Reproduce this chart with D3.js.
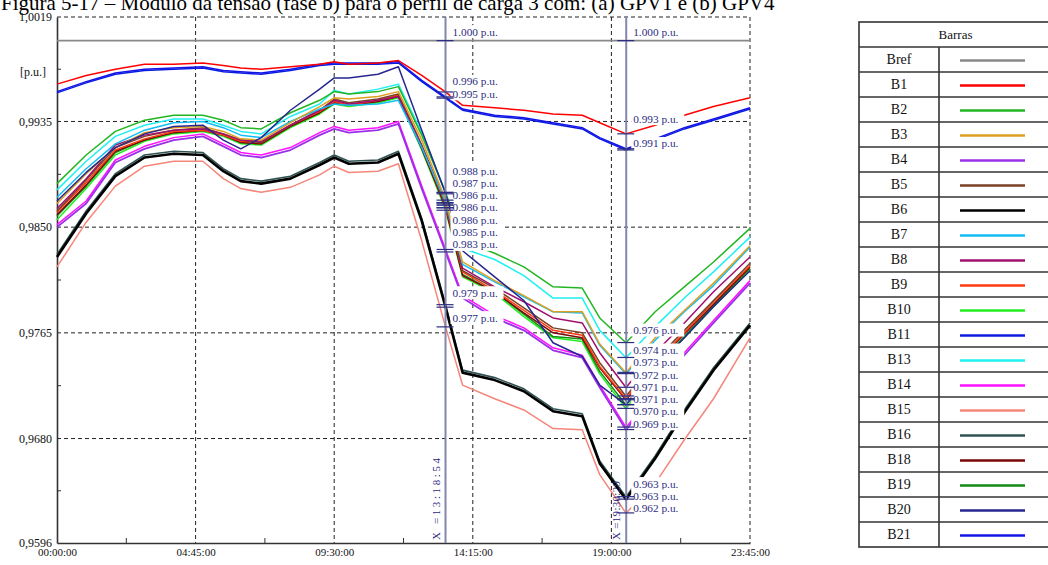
<!DOCTYPE html>
<html><head><meta charset="utf-8">
<script src="https://cdn.jsdelivr.net/npm/d3@7/dist/d3.min.js"></script>
<style>
body{margin:0;background:#fff;}
svg{display:block;font-family:"Liberation Serif","Times New Roman",serif;}
</style>
</head><body>
<svg id="chart" width="1048" height="565"></svg>
<script>
// ---------- DATA ----------
const titleText = "Figura 5-17 – Módulo da tensão (fase b) para o perfil de carga 3 com: (a) GPV1 e (b) GPV4";
const hours = [0, 1, 2, 3, 4, 5, 5.7, 6.3, 7, 8, 9, 9.5, 10, 11, 11.7, 12.5, 13.3, 13.9, 15, 16, 17, 18, 18.6, 19.5, 20.5, 21.5, 22.5, 23.75];
const seriesNames = ["Bref","B1","B2","B3","B4","B5","B6","B7","B8","B9","B10","B11","B13","B14","B15","B16","B18","B19","B20","B21"];
const Bref = [1.000,1.000,1.000,1.000,1.000,1.000,1.000,1.000,1.000,1.000,1.000,1.000,1.000,1.000,1.000,1.000,1.000,1.000,1.000,1.000,1.000,1.000,1.000,1.000,1.000,1.000,1.000,1.000];
const B1  = [0.9965,0.9972,0.9977,0.9981,0.9981,0.9982,0.9980,0.9978,0.9977,0.9979,0.9981,0.9983,0.9981,0.9982,0.9984,0.9972,0.9959,0.9948,0.9946,0.9944,0.9941,0.9940,0.9934,0.9925,0.9932,0.9940,0.9947,0.9954];
const B21 = [0.9959,0.9967,0.9974,0.9977,0.9978,0.9979,0.9976,0.9975,0.9974,0.9977,0.9981,0.9982,0.9982,0.9982,0.9983,0.9968,0.9955,0.9945,0.9940,0.9938,0.9934,0.9930,0.9922,0.9913,0.9921,0.9930,0.9937,0.9946];
const B11 = [0.9958,0.9966,0.9973,0.9976,0.9977,0.9978,0.9975,0.9974,0.9973,0.9976,0.9980,0.9981,0.9981,0.9981,0.9982,0.9967,0.9954,0.9944,0.9939,0.9937,0.9933,0.9929,0.9921,0.9912,0.9920,0.9929,0.9936,0.9945];
const B2  = [0.9885,0.9908,0.9927,0.9936,0.9940,0.9940,0.9936,0.9930,0.9929,0.9942,0.9952,0.9959,0.9957,0.9959,0.9963,0.9924,0.9879,0.9839,0.9829,0.9818,0.9802,0.9801,0.9777,0.9757,0.9782,0.9802,0.9822,0.9849];
const B13 = [0.9880,0.9903,0.9923,0.9932,0.9937,0.9937,0.9932,0.9927,0.9925,0.9939,0.9949,0.9960,0.9957,0.9961,0.9965,0.9926,0.9879,0.9833,0.9824,0.9811,0.9793,0.9793,0.9767,0.9745,0.9770,0.9793,0.9814,0.9842];
const B7  = [0.9874,0.9897,0.9917,0.9928,0.9934,0.9935,0.9930,0.9924,0.9922,0.9935,0.9945,0.9949,0.9948,0.9949,0.9952,0.9914,0.9871,0.9820,0.9806,0.9794,0.9782,0.9781,0.9755,0.9732,0.9759,0.9782,0.9803,0.9834];
const B3  = [0.9869,0.9893,0.9914,0.9926,0.9930,0.9931,0.9927,0.9921,0.9920,0.9934,0.9947,0.9954,0.9953,0.9955,0.9959,0.9920,0.9873,0.9822,0.9807,0.9795,0.9782,0.9782,0.9756,0.9733,0.9761,0.9783,0.9805,0.9835];
const B8  = [0.9865,0.9889,0.9916,0.9924,0.9928,0.9929,0.9925,0.9920,0.9919,0.9932,0.9944,0.9952,0.9949,0.9952,0.9955,0.9915,0.9871,0.9817,0.9802,0.9790,0.9777,0.9773,0.9749,0.9721,0.9749,0.9773,0.9798,0.9826];
const B5  = [0.9863,0.9888,0.9914,0.9923,0.9928,0.9930,0.9925,0.9920,0.9918,0.9932,0.9944,0.9953,0.9950,0.9953,0.9957,0.9916,0.9870,0.9815,0.9801,0.9785,0.9769,0.9765,0.9741,0.9714,0.9743,0.9767,0.9791,0.9821];
const B9  = [0.9862,0.9886,0.9912,0.9921,0.9927,0.9928,0.9924,0.9919,0.9918,0.9932,0.9943,0.9951,0.9948,0.9952,0.9956,0.9915,0.9869,0.9814,0.9799,0.9783,0.9767,0.9763,0.9738,0.9712,0.9741,0.9765,0.9790,0.9819];
const B18 = [0.9860,0.9884,0.9911,0.9920,0.9926,0.9928,0.9924,0.9918,0.9917,0.9931,0.9942,0.9950,0.9948,0.9951,0.9955,0.9913,0.9867,0.9811,0.9798,0.9781,0.9765,0.9761,0.9737,0.9711,0.9740,0.9764,0.9788,0.9818];
const B19 = [0.9859,0.9883,0.9910,0.9920,0.9926,0.9928,0.9924,0.9918,0.9917,0.9931,0.9942,0.9950,0.9948,0.9951,0.9955,0.9914,0.9867,0.9812,0.9798,0.9780,0.9762,0.9760,0.9734,0.9707,0.9738,0.9762,0.9787,0.9817];
const B10 = [0.9856,0.9881,0.9908,0.9919,0.9925,0.9927,0.9923,0.9917,0.9916,0.9930,0.9941,0.9949,0.9947,0.9950,0.9954,0.9912,0.9865,0.9810,0.9797,0.9778,0.9761,0.9758,0.9732,0.9704,0.9737,0.9761,0.9786,0.9816];
const B4  = [0.9850,0.9869,0.9902,0.9913,0.9920,0.9923,0.9915,0.9908,0.9906,0.9912,0.9924,0.9929,0.9926,0.9928,0.9933,0.9881,0.9831,0.9793,0.9777,0.9767,0.9751,0.9745,0.9721,0.9687,0.9716,0.9747,0.9773,0.9805];
const B14 = [0.9852,0.9871,0.9904,0.9915,0.9922,0.9925,0.9917,0.9910,0.9908,0.9914,0.9926,0.9931,0.9928,0.9930,0.9935,0.9883,0.9833,0.9795,0.9779,0.9769,0.9753,0.9747,0.9723,0.9689,0.9718,0.9749,0.9775,0.9807];
const B20 = [0.9871,0.9894,0.9914,0.9925,0.9931,0.9932,0.9920,0.9913,0.9922,0.9944,0.9961,0.9970,0.9970,0.9973,0.9979,0.9928,0.9878,0.9831,0.9810,0.9791,0.9757,0.9746,0.9723,0.9707,0.9737,0.9761,0.9786,0.9815];
const B6  = [0.9826,0.9861,0.9891,0.9906,0.9909,0.9908,0.9895,0.9887,0.9885,0.9889,0.9900,0.9906,0.9901,0.9902,0.9909,0.9855,0.9787,0.9733,0.9727,0.9718,0.9702,0.9698,0.9660,0.9631,0.9664,0.9701,0.9735,0.9771];
const B16 = [0.9828,0.9863,0.9893,0.9908,0.9911,0.9910,0.9897,0.9889,0.9887,0.9891,0.9902,0.9908,0.9903,0.9904,0.9911,0.9857,0.9789,0.9735,0.9729,0.9720,0.9704,0.9700,0.9662,0.9633,0.9666,0.9703,0.9737,0.9773];
const B15 = [0.9818,0.9854,0.9883,0.9899,0.9903,0.9903,0.9889,0.9881,0.9878,0.9882,0.9892,0.9899,0.9894,0.9895,0.9901,0.9839,0.9771,0.9723,0.9712,0.9703,0.9688,0.9687,0.9651,0.9620,0.9644,0.9679,0.9712,0.9761];

const xTickValues = [0, 4.75, 9.5, 14.25, 19, 23.75];
const xTickLabels = ["00:00:00","04:45:00","09:30:00","14:15:00","19:00:00","23:45:00"];
const yTickValues = [0.9596, 0.9680, 0.9765, 0.9850, 0.9935, 1.0019];
const yTickLabels = ["0,9596","0,9680","0,9765","0,9850","0,9935","1,0019"];
const yUnit = "[p.u.]";
const cursorTimes = [13 + 18/60 + 54/3600, 19 + 30/60 + 29/3600];
const cursorTimeLabels = ["X =13:18:54", "X =19:30:29"];
const cursor1Readings = [1.000,0.996,0.995,0.988,0.987,0.986,0.986,0.986,0.985,0.983,0.979,0.977];
const cursor2Readings = [1.000,0.993,0.991,0.976,0.974,0.973,0.972,0.971,0.971,0.970,0.969,0.963,0.963,0.962];
const legendTitle = "Barras";

// ---------- STYLE ----------
const seriesData = {Bref,B1,B2,B3,B4,B5,B6,B7,B8,B9,B10,B11,B13,B14,B15,B16,B18,B19,B20,B21};
const colors = {Bref:"#888888",B1:"#FF0000",B2:"#22B622",B3:"#DDA020",B4:"#9A30E8",B5:"#7A4226",B6:"#000000",
  B7:"#10BEF5",B8:"#A0106E",B9:"#FF3A10",B10:"#22EE22",B11:"#0A1EE0",B13:"#20F0F0",B14:"#FF10FF",
  B15:"#F5867A",B16:"#2F5252",B18:"#7A0808",B19:"#138A13",B20:"#262690",B21:"#1414E8"};
const widths = {Bref:1.6,B6:2.6,B4:1.8,B16:1.6};
const drawOrder = ["Bref","B15","B16","B6","B14","B4","B10","B19","B18","B9","B5","B8","B7","B3","B13","B2","B20","B11","B21","B1"];

const svg = d3.select("#chart");
const L = 57, R = 750, T = 17, B = 543;
const x = d3.scaleLinear().domain([0, 23.75]).range([L, R]);
const y = d3.scaleLinear().domain([0.9596, 1.0019]).range([B, T]);
const navy = "#2C2C80";

// title (partially cut off at top)
svg.append("text").attr("x", 1).attr("y", 10).attr("font-size", 21).attr("fill", "#000").text(titleText);

// grid
const grid = svg.append("g");
yTickValues.filter(v => v > 0.96).forEach(v => {
  grid.append("line").attr("x1", L).attr("x2", R).attr("y1", y(v)).attr("y2", y(v))
    .attr("stroke", "#222").attr("stroke-width", 1).attr("stroke-dasharray", "4,3");
});
xTickValues.filter(v => v > 0).forEach(v => {
  grid.append("line").attr("x1", x(v)).attr("x2", x(v)).attr("y1", T).attr("y2", B)
    .attr("stroke", "#222").attr("stroke-width", 1).attr("stroke-dasharray", "4,3");
});

// axes
const xAxis = d3.axisBottom(x).tickValues(xTickValues).tickFormat((d, i) => xTickLabels[i]).tickSize(0).tickPadding(5);
const gx = svg.append("g").attr("transform", `translate(0,${B})`).call(xAxis);
gx.select(".domain").attr("stroke", "#333").attr("stroke-width", 1.6);
gx.selectAll("text").attr("font-family", "Liberation Serif, serif").attr("font-size", 11).attr("fill", "#111");
const xMinor = xTickValues.slice(0, -1).map((v, i) => (v + xTickValues[i + 1]) / 2);
svg.append("g").selectAll("line").data(xMinor).join("line")
  .attr("x1", d => x(d)).attr("x2", d => x(d)).attr("y1", B).attr("y2", B - 5).attr("stroke", "#333");

const yAxis = d3.axisLeft(y).tickValues(yTickValues).tickFormat((d, i) => yTickLabels[i]).tickSize(0).tickPadding(5);
const gy = svg.append("g").attr("transform", `translate(${L},0)`).call(yAxis);
gy.select(".domain").attr("stroke", "#333").attr("stroke-width", 1.6);
gy.selectAll("text").attr("font-family", "Liberation Serif, serif").attr("font-size", 12).attr("fill", "#111");
const yMinor = yTickValues.slice(0, -1).map((v, i) => (v + yTickValues[i + 1]) / 2);
svg.append("g").selectAll("line").data(yMinor).join("line")
  .attr("x1", L).attr("x2", L + 4).attr("y1", d => y(d)).attr("y2", d => y(d)).attr("stroke", "#333");
svg.append("text").attr("x", 33).attr("y", 76).attr("text-anchor", "middle").attr("font-size", 12).attr("fill", "#111").text(yUnit);

// series lines
const line = d3.line().x((d, i) => x(hours[i])).y(d => y(d));
const gl = svg.append("g");
drawOrder.forEach(name => {
  gl.append("path").datum(seriesData[name]).attr("d", line).attr("fill", "none")
    .attr("stroke", colors[name]).attr("stroke-width", widths[name] || 1.5).attr("stroke-linejoin", "round");
});

// cursors
function valueAt(arr, t) {
  const i = d3.bisectRight(hours, t) - 1;
  const f = (t - hours[i]) / (hours[i + 1] - hours[i]);
  return arr[i] + f * (arr[i + 1] - arr[i]);
}
function layoutLabels(vals, off, gap) {
  const items = vals.map(v => ({v, y: y(v) + off})).sort((a, b) => a.y - b.y);
  for (let it = 0; it < 300; it++) {
    for (let i = 0; i < items.length - 1; i++) {
      const d = items[i + 1].y - items[i].y;
      if (d < gap) { const s = (gap - d) / 2; items[i].y -= s; items[i + 1].y += s; }
    }
  }
  return items;
}
const gc = svg.append("g");
cursorTimes.forEach((t, ci) => {
  const cx = x(t);
  gc.append("line").attr("x1", cx).attr("x2", cx).attr("y1", T).attr("y2", B)
    .attr("stroke", "#8585AE").attr("stroke-width", 2);
  const readings = ci === 0 ? cursor1Readings : cursor2Readings;
  const items = layoutLabels(readings, -9, 12.3);
  items.forEach(it => {
    gc.append("rect").attr("x", cx + 5).attr("y", it.y - 6.5).attr("width", 53).attr("height", 13).attr("fill", "#fff");
    gc.append("text").attr("x", cx + 7).attr("y", it.y).attr("dy", "0.35em").attr("font-size", 11.3)
      .attr("fill", navy).text(it.v.toFixed(3) + " p.u.");
  });
  seriesNames.forEach(name => {
    const vy = y(valueAt(seriesData[name], t));
    gc.append("line").attr("x1", cx - 9).attr("x2", cx + 8).attr("y1", vy).attr("y2", vy)
      .attr("stroke", navy).attr("stroke-width", 1.2);
  });
  const tx = cx - 6, ty = B - 3;
  gc.append("text").attr("transform", `translate(${tx},${ty}) rotate(-90)`)
    .attr("font-size", 11).attr("fill", navy).attr("letter-spacing", ci === 0 ? 2.6 : 0.3).text(cursorTimeLabels[ci]);
});

// legend table
const lg = svg.append("g");
const tL = 859, tR = 1052, tDiv = 939, tTop = 22, hH = 25, rH = 25;
const tBot = tTop + hH + seriesNames.length * rH;
lg.append("rect").attr("x", tL).attr("y", tTop).attr("width", tR - tL).attr("height", tBot - tTop)
  .attr("fill", "#fff").attr("stroke", "#333").attr("stroke-width", 1.6);
lg.append("text").attr("x", (tL + tR) / 2).attr("y", tTop + hH / 2).attr("dy", "0.35em").attr("text-anchor", "middle")
  .attr("font-size", 13).attr("fill", "#111").text(legendTitle);
lg.append("line").attr("x1", tDiv).attr("x2", tDiv).attr("y1", tTop + hH).attr("y2", tBot).attr("stroke", "#333").attr("stroke-width", 1.6);
seriesNames.forEach((name, i) => {
  const ry = tTop + hH + i * rH;
  lg.append("line").attr("x1", tL).attr("x2", tR).attr("y1", ry).attr("y2", ry).attr("stroke", "#333").attr("stroke-width", 1.6);
  lg.append("text").attr("x", (tL + tDiv) / 2).attr("y", ry + rH / 2).attr("dy", "0.35em").attr("text-anchor", "middle")
    .attr("font-size", 14).attr("fill", "#111").text(name);
  lg.append("line").attr("x1", 960).attr("x2", 1025).attr("y1", ry + rH / 2 + 1).attr("y2", ry + rH / 2 + 1)
    .attr("stroke", colors[name]).attr("stroke-width", 2.6);
});
</script>
</body></html>
